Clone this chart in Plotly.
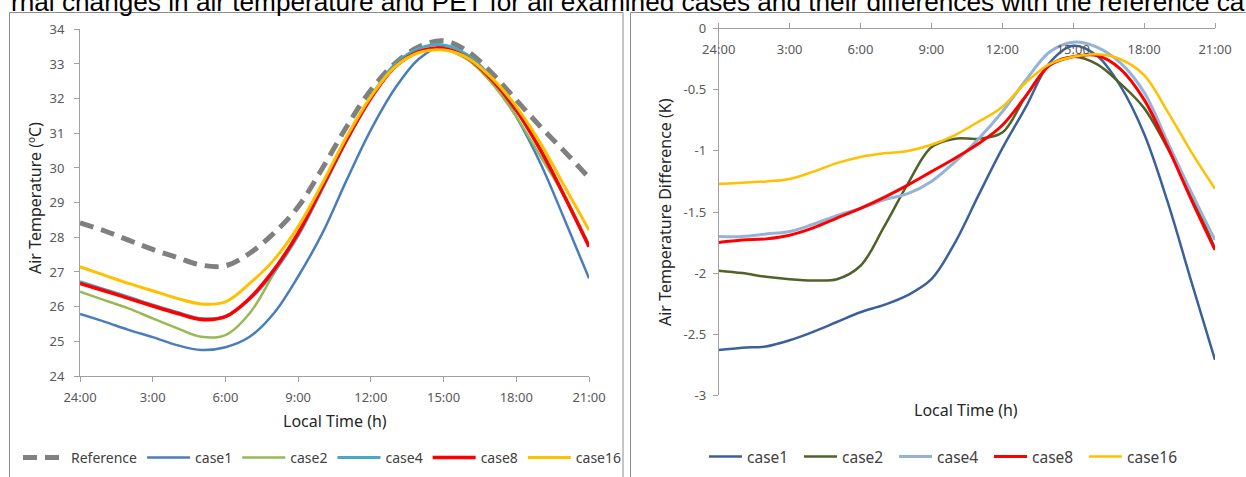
import plotly.graph_objects as go

# ---------------- data ----------------
hours = list(range(22))
tick_hours = [0, 3, 6, 9, 12, 15, 18, 21]
tick_labels = ["24:00", "3:00", "6:00", "9:00", "12:00", "15:00", "18:00", "21:00"]

temp_ticks = [24, 25, 26, 27, 28, 29, 30, 31, 32, 33, 34]
diff_ticks = [0, -0.5, -1, -1.5, -2, -2.5, -3]
diff_tick_labels = ["0", "-0.5", "-1", "-1.5", "-2", "-2.5", "-3"]

# left chart: air temperature (degC)
t_reference = [28.42, 28.19, 27.92, 27.65, 27.42, 27.20, 27.18, 27.54, 28.12, 28.88, 29.99,
               31.19, 32.25, 33.02, 33.50, 33.67, 33.36, 32.73, 31.96, 31.19, 30.47, 29.72]
t_case1 = [25.79, 25.57, 25.33, 25.12, 24.89, 24.75, 24.83, 25.13, 25.81, 26.87, 28.12,
           29.65, 31.10, 32.30, 33.16, 33.52, 33.26, 32.59, 31.48, 30.13, 28.50, 26.82]
t_case2 = [26.43, 26.19, 25.95, 25.66, 25.38, 25.13, 25.18, 25.81, 26.96, 28.12, 29.46,
           30.81, 32.01, 32.92, 33.36, 33.42, 33.12, 32.44, 31.48, 30.33, 29.17, 27.80]
t_case4 = [26.72, 26.50, 26.28, 26.05, 25.84, 25.66, 25.72, 26.22, 27.00, 28.05, 29.40,
           30.80, 32.05, 33.00, 33.45, 33.55, 33.25, 32.58, 31.65, 30.50, 29.15, 27.75]
t_case8 = [26.67, 26.46, 26.24, 26.02, 25.81, 25.63, 25.71, 26.24, 27.06, 28.12, 29.46,
           30.81, 32.01, 32.92, 33.36, 33.45, 33.17, 32.54, 31.67, 30.52, 29.17, 27.73]
t_case16 = [27.15, 26.91, 26.67, 26.46, 26.24, 26.08, 26.14, 26.67, 27.35, 28.31, 29.56,
            30.90, 32.06, 32.92, 33.33, 33.40, 33.17, 32.59, 31.77, 30.71, 29.46, 28.21]

# right chart: difference with reference (K)
d_case1 = [-2.63, -2.61, -2.60, -2.55, -2.48, -2.40, -2.32, -2.26, -2.18, -2.05, -1.75,
           -1.36, -0.98, -0.64, -0.28, -0.14, -0.22, -0.47, -0.86, -1.42, -2.07, -2.71]
d_case2 = [-1.98, -2.00, -2.03, -2.05, -2.06, -2.05, -1.94, -1.62, -1.27, -0.97, -0.90,
           -0.90, -0.85, -0.55, -0.30, -0.23, -0.29, -0.45, -0.65, -0.98, -1.36, -1.80]
d_case4 = [-1.70, -1.70, -1.68, -1.66, -1.60, -1.53, -1.47, -1.40, -1.35, -1.25, -1.09,
           -0.90, -0.68, -0.42, -0.19, -0.11, -0.15, -0.28, -0.52, -0.93, -1.34, -1.73]
d_case8 = [-1.75, -1.73, -1.72, -1.69, -1.63, -1.55, -1.47, -1.38, -1.28, -1.17, -1.06,
           -0.94, -0.79, -0.55, -0.30, -0.23, -0.22, -0.33, -0.58, -0.97, -1.40, -1.81]
d_case16 = [-1.27, -1.26, -1.25, -1.23, -1.17, -1.10, -1.05, -1.02, -1.00, -0.95, -0.87,
            -0.76, -0.64, -0.44, -0.29, -0.23, -0.21, -0.25, -0.38, -0.68, -1.01, -1.31]

left_series = [
    ("Reference", t_reference, "#808080", 5, "14px,8px"),
    ("case1", t_case1, "#4A7EBB", 2.5, "solid"),
    ("case2", t_case2, "#98B954", 2.5, "solid"),
    ("case4", t_case4, "#46AAC5", 3, "solid"),
    ("case8", t_case8, "#FF0000", 3.5, "solid"),
    ("case16", t_case16, "#FFC000", 3, "solid"),
]
right_series = [
    ("case1", d_case1, "#3A619B", 2.5),
    ("case2", d_case2, "#4F6228", 2.5),
    ("case4", d_case4, "#95B3D7", 3),
    ("case8", d_case8, "#FF0000", 3),
    ("case16", d_case16, "#FFC000", 2.5),
]

W, H = 1246, 477
def px(x):
    return x / W
def py(y):
    return 1 - y / H

FONT = "Noto Sans"
TICK_COLOR = "#595959"
AXIS_COLOR = "#A0A0A0"

fig = go.Figure()
for name, vals, color, width, dash in left_series:
    fig.add_trace(go.Scatter(
        x=hours, y=vals, name=name, mode="lines",
        line=dict(color=color, width=width, dash=dash, shape="spline", smoothing=1.0),
        xaxis="x", yaxis="y", legend="legend"))
for name, vals, color, width in right_series:
    fig.add_trace(go.Scatter(
        x=hours, y=vals, name=name, mode="lines",
        line=dict(color=color, width=width, shape="spline", smoothing=1.0),
        xaxis="x2", yaxis="y2", legend="legend2"))
# empty trace so that the label-only axis (x3) of the right chart is drawn
fig.add_trace(go.Scatter(x=[], y=[], xaxis="x3", yaxis="y2", showlegend=False, hoverinfo="skip"))

tickfont = dict(family=FONT, size=13, color=TICK_COLOR)
axis_common = dict(showline=True, linecolor=AXIS_COLOR, linewidth=1, ticks="outside", ticklen=5,
                   tickcolor=AXIS_COLOR, showgrid=False, zeroline=False, tickfont=tickfont,
                   automargin=False)
fig.update_layout(
    width=W, height=H,
    margin=dict(l=0, r=0, t=0, b=0, autoexpand=False),
    paper_bgcolor="white", plot_bgcolor="white",
    xaxis=dict(domain=[px(80), px(589)], range=[0, 21], tickvals=tick_hours, ticktext=tick_labels,
               anchor="y", ticklabelstandoff=4, **axis_common),
    yaxis=dict(domain=[py(376), py(29.3)], range=[24, 34], tickvals=temp_ticks,
               anchor="x", ticklabelstandoff=7, **axis_common),
    xaxis2=dict(domain=[px(718.7), px(1215)], range=[0, 21], tickvals=tick_hours,
                side="top", showticklabels=False, anchor="y2", **axis_common),
    xaxis3=dict(overlaying="x2", range=[0, 21], tickvals=tick_hours, ticktext=tick_labels,
                side="bottom", anchor="free", position=py(40), showline=False, ticks="",
                showgrid=False, zeroline=False, tickfont=tickfont, automargin=False),
    yaxis2=dict(domain=[py(395.3), py(28.7)], range=[-3, 0], tickvals=diff_ticks, ticktext=diff_tick_labels,
                anchor="x2", ticklabelstandoff=4, **axis_common),
    legend=dict(orientation="h", x=px(18), y=py(458), xanchor="left", yanchor="middle",
                font=dict(family=FONT, size=14, color="#404040"), bgcolor="rgba(0,0,0,0)",
                itemwidth=43),
    legend2=dict(orientation="h", x=px(704), y=py(457), xanchor="left", yanchor="middle",
                 font=dict(family=FONT, size=15.5, color="#404040"), bgcolor="rgba(0,0,0,0)",
                 itemwidth=33, entrywidth=47),
    showlegend=True,
)

title_font = dict(family=FONT, size=16, color="#262626")
annotations = [
    dict(text="rnal changes in air temperature and PET for all examined cases and their differences with the reference ca",
         x=px(628), y=py(19.5), xref="paper", yref="paper", xanchor="center", yanchor="bottom",
         showarrow=False, font=dict(family="Liberation Sans", size=26.2, color="#000000")),
    dict(text="Air Temperature (ºC)", x=px(35), y=py(198), xref="paper", yref="paper",
         textangle=-90, showarrow=False, xanchor="center", yanchor="middle", font=title_font),
    dict(text="Local Time (h)", x=px(335), y=py(421), xref="paper", yref="paper",
         showarrow=False, xanchor="center", yanchor="middle", font=title_font),
    dict(text="Air Temperature Difference (K)", x=px(665), y=py(212), xref="paper", yref="paper",
         textangle=-90, showarrow=False, xanchor="center", yanchor="middle", font=title_font),
    dict(text="Local Time (h)", x=px(966), y=py(410), xref="paper", yref="paper",
         showarrow=False, xanchor="center", yanchor="middle", font=title_font),
]
fig.update_layout(annotations=annotations)

shapes = [
    dict(type="rect", xref="paper", yref="paper", x0=px(9.5), x1=px(623), y0=-0.1, y1=py(12.5),
         line=dict(color="#8C8C8C", width=1), fillcolor="rgba(0,0,0,0)", layer="below"),
    dict(type="rect", xref="paper", yref="paper", x0=px(630.5), x1=1.1, y0=-0.1, y1=py(12.5),
         line=dict(color="#8C8C8C", width=1), fillcolor="rgba(0,0,0,0)", layer="below"),
]
fig.update_layout(shapes=shapes)

fig.write_html("out.html", config={"displayModeBar": False},
               post_script="document.body.style.margin='0px';")
